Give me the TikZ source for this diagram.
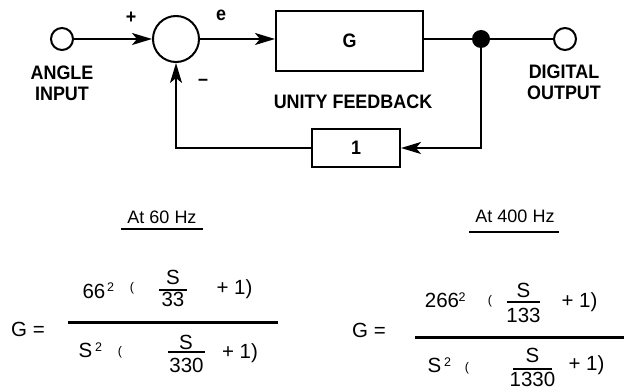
\documentclass[tikz,border=0pt]{standalone}
\usepackage{fontspec}
\setmainfont{Liberation Sans}
\newfontfamily\lblfont{Liberation Sans}[FakeStretch=0.92]
\usetikzlibrary{arrows.meta}
\begin{document}
\begin{tikzpicture}[x=1pt,y=-1pt,
  wire/.style={line width=2pt},
  arr/.style={wire,-{Stealth[length=20pt,width=12pt,inset=5pt]}},
  lbl/.style={font=\lblfont\fontsize{19.5}{21}\selectfont\bfseries, inner sep=0pt, align=center},
  eqt/.style={font=\fontsize{20.5}{22}\selectfont, inner sep=0pt},
  hz/.style={font=\fontsize{18}{20}\selectfont, inner sep=0pt},
  supt/.style={font=\fontsize{12.5}{14}\selectfont, inner sep=0pt},
  par/.style={font=\fontsize{12.5}{14}\selectfont, inner sep=0pt},
  term/.style={circle, draw, wire, minimum size=22pt, inner sep=0pt},
  blk/.style={draw, wire, inner sep=0pt, font=\lblfont\fontsize{19.5}{21}\selectfont\bfseries},
  bar/.style={line width=2pt},
  mainbar/.style={line width=2.6pt}]
\useasboundingbox (0,0) rectangle (624,390);

% block diagram
\node[term] (in) at (62,39) {};
\node[circle, draw, wire, minimum size=46pt, inner sep=0pt] (sum) at (176,39) {};
\node[blk, minimum width=147pt, minimum height=60pt] (G) at (349.5,41) {G};
\node[circle, fill, minimum size=18pt, inner sep=0pt] (dot) at (481,39) {};
\node[term] (out) at (565,39) {};
\node[blk, minimum width=88pt, minimum height=38pt] (fb) at (356,148) {1};

\draw[arr] (in) -- (sum);
\draw[arr] (sum) -- (G.west |- sum);
\draw[wire] (G.east |- dot) -- (dot) -- (out);
\draw[arr] (dot.center) |- (fb.east);
\draw[arr] (fb.west) -| (sum.south);

\node[lbl] (plus) at (131,18) {+};
\node[lbl] (elab) at (221,15) {e};
\node[lbl] (minus) at (203,82) {–};
\node[lbl] (inlab) at (62,83) {ANGLE\\INPUT};
\node[lbl] (unity) at (353,102) {UNITY FEEDBACK};
\node[lbl] (outlab) at (564,82) {DIGITAL\\OUTPUT};

% At 60 Hz
\node[hz] (h1) at (162,217) {At 60 Hz};
\draw[bar] (121,229) -- (203,229);
\node[eqt] (g1) at (28,329) {G =};
\draw[mainbar] (68,322.5) -- (278,322.5);
\node[eqt] (n1) at (94,291) {66};
\node[supt] (n1s) at (110.5,287) {2};
\node[par] (n1p) at (132,288) {(};
\node[eqt] (n1a) at (173,277.5) {S};
\draw[bar] (159,289.5) -- (187,289.5);
\node[eqt] (n1b) at (173,299.5) {33};
\node[eqt] (n1c) at (234.5,289.5) {+ 1)};
\node[eqt] (d1) at (85.5,350.5) {S};
\node[supt] (d1s) at (98.5,347.5) {2};
\node[par] (d1p) at (120,352.5) {(};
\node[eqt] (d1a) at (186,342) {S};
\draw[bar] (168,351.5) -- (205,351.5);
\node[eqt] (d1b) at (186.5,365) {330};
\node[eqt] (d1c) at (240,353) {+ 1)};

% At 400 Hz
\node[hz] (h2) at (515,216) {At 400 Hz};
\draw[bar] (469,232) -- (559,232);
\node[eqt] (g2) at (369,330) {G =};
\draw[mainbar] (415,337.5) -- (624,337.5);
\node[eqt] (n2) at (442,300.5) {266};
\node[supt] (n2s) at (462,297.5) {2};
\node[par] (n2p) at (490,301) {(};
\node[eqt] (n2a) at (523.5,290.5) {S};
\draw[bar] (507,302) -- (540,302);
\node[eqt] (n2b) at (523.5,315.5) {133};
\node[eqt] (n2c) at (579.5,302) {+ 1)};
\node[eqt] (d2) at (434.5,365.5) {S};
\node[supt] (d2s) at (447.5,362.5) {2};
\node[par] (d2p) at (467,368.5) {(};
\node[eqt] (d2a) at (532.5,355.5) {S};
\draw[bar] (513,368.5) -- (552,368.5);
\node[eqt] (d2b) at (532.5,379.5) {1330};
\node[eqt] (d2c) at (586.5,365) {+ 1)};
\end{tikzpicture}
\end{document}
